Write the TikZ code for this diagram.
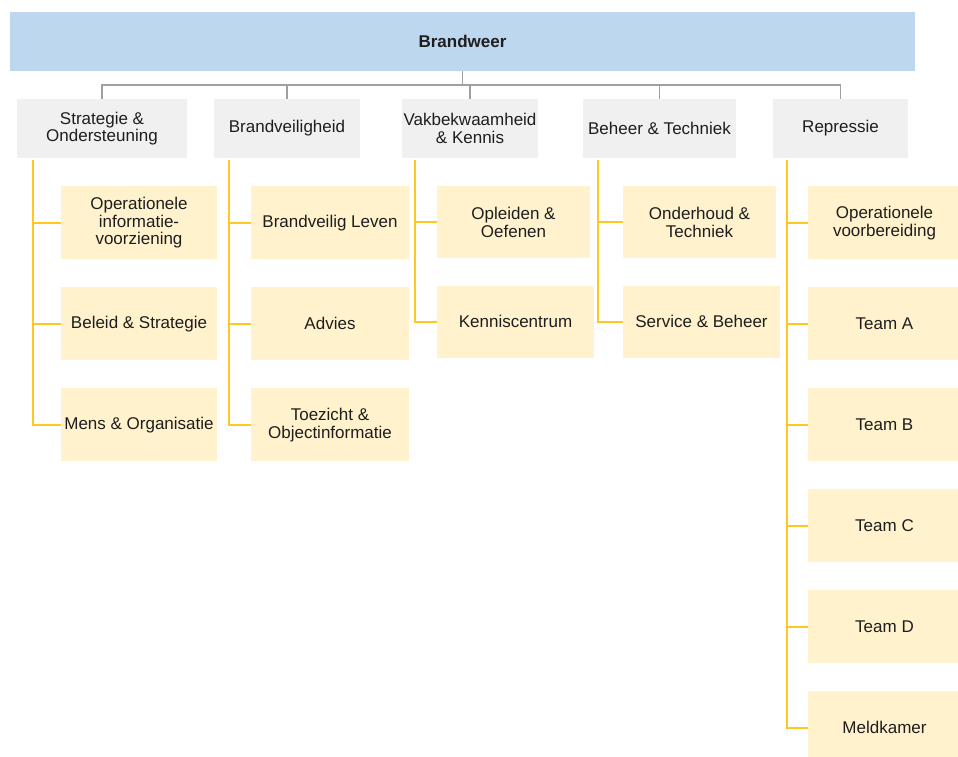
\documentclass[tikz,border=0pt]{standalone}
\usepackage{fontspec}
\setmainfont{Liberation Sans}
\usetikzlibrary{positioning}
\definecolor{bwblue}{HTML}{BDD7EE}
\definecolor{deptgray}{HTML}{F0F0F0}
\definecolor{subyellow}{HTML}{FFF2CC}
\definecolor{lineyellow}{HTML}{FFC820}
\definecolor{linegray}{HTML}{A0A0A0}
\definecolor{txt}{HTML}{1E1E1E}

\begin{document}
\begin{tikzpicture}[x=1pt, y=1pt, node distance={27.6pt}, text=txt,
  font=\fontsize{17}{17.5}\selectfont,
  chief/.style = {fill=bwblue, minimum width=905pt, minimum height=59pt, inner sep=0pt, font=\fontsize{17}{18}\selectfont\bfseries},
  dept/.style = {fill=deptgray, minimum height=59pt, inner sep=0pt, align=center},
  sub/.style = {fill=subyellow, minimum width=156pt, minimum height=73pt, inner sep=0pt, align=center},
  gline/.style = {draw=linegray, line width=1.6pt},
  yline/.style = {draw=lineyellow, line width=2pt}]
\useasboundingbox (0,0) rectangle (958,-757);

\node[chief] (bw) at (462.5,-41.5) {Brandweer};

\node[dept, minimum width=170pt] (so) at (102,-128.5) {Strategie \&\\Ondersteuning};
\node[dept, minimum width=146pt] (bv) at (287,-128.5) {Brandveiligheid};
\node[dept, minimum width=136pt] (vk) at (470,-128.5) {Vakbekwaamheid\\\& Kennis};
\node[dept, minimum width=153pt] (bt) at (659.5,-128.5) {Beheer \& Techniek};
\node[dept, minimum width=135pt] (re) at (840.5,-128.5) {Repressie};

% Strategie & Ondersteuning
\node[sub] (so1) [below right=28pt and 44pt of so.south west] {Operationele\\informatie-\\voorziening};
\node[sub] (so2) [below=of so1] {Beleid \& Strategie};
\node[sub] (so3) [below=of so2] {Mens \& Organisatie};

% Brandveiligheid
\node[sub, minimum width=158pt] (bv1) [below right=28pt and 37pt of bv.south west] {Brandveilig Leven};
\node[sub, minimum width=158pt] (bv2) [below=of bv1] {Advies};
\node[sub, minimum width=158pt] (bv3) [below=of bv2] {Toezicht \&\\Objectinformatie};

% Vakbekwaamheid & Kennis
\node[sub, minimum width=153pt, minimum height=72pt] (vk1) [below right=28pt and 35pt of vk.south west] {Opleiden \&\\Oefenen};
\node[sub, minimum width=157pt, minimum height=72pt] (vk2) [below=27pt of vk1.south west, anchor=north west] {Kenniscentrum};

% Beheer & Techniek
\node[sub, minimum width=153pt, minimum height=72pt] (bt1) [below right=28pt and 40pt of bt.south west] {Onderhoud \&\\Techniek};
\node[sub, minimum width=157pt, minimum height=72pt] (bt2) [below=27pt of bt1.south west, anchor=north west] {Service \& Beheer};

% Repressie
\node[sub, minimum width=153pt] (re1) [below right=28pt and 35pt of re.south west] {Operationele\\voorbereiding};
\node[sub, minimum width=153pt] (re2) [below=of re1] {Team A};
\node[sub, minimum width=153pt] (re3) [below=of re2] {Team B};
\node[sub, minimum width=153pt] (re4) [below=of re3] {Team C};
\node[sub, minimum width=153pt] (re5) [below=of re4] {Team D};
\node[sub, minimum width=153pt] (re6) [below=of re5] {Meldkamer};

\draw[gline] (bw.south) -- ++(0,-14) -| (so.north);
\draw[gline] (bw.south) -- ++(0,-14) -| (bv.north);
\draw[gline] (bw.south) -- ++(0,-14) -| (vk.north);
\draw[gline] (bw.south) -- ++(0,-14) -| (bt.north);
\draw[gline] (bw.south) -- ++(0,-14) -| (re.north);

\draw[yline] ([xshift=16pt,yshift=-2pt]so.south west) |- (so1.west);
\draw[yline] ([xshift=16pt,yshift=-2pt]so.south west) |- (so2.west);
\draw[yline] ([xshift=16pt,yshift=-2pt]so.south west) |- (so3.west);

\draw[yline] ([xshift=15pt,yshift=-2pt]bv.south west) |- (bv1.west);
\draw[yline] ([xshift=15pt,yshift=-2pt]bv.south west) |- (bv2.west);
\draw[yline] ([xshift=15pt,yshift=-2pt]bv.south west) |- (bv3.west);

\draw[yline] ([xshift=13pt,yshift=-2pt]vk.south west) |- (vk1.west);
\draw[yline] ([xshift=13pt,yshift=-2pt]vk.south west) |- (vk2.west);

\draw[yline] ([xshift=15pt,yshift=-2pt]bt.south west) |- (bt1.west);
\draw[yline] ([xshift=15pt,yshift=-2pt]bt.south west) |- (bt2.west);

\draw[yline] ([xshift=14pt,yshift=-2pt]re.south west) |- (re1.west);
\draw[yline] ([xshift=14pt,yshift=-2pt]re.south west) |- (re2.west);
\draw[yline] ([xshift=14pt,yshift=-2pt]re.south west) |- (re3.west);
\draw[yline] ([xshift=14pt,yshift=-2pt]re.south west) |- (re4.west);
\draw[yline] ([xshift=14pt,yshift=-2pt]re.south west) |- (re5.west);
\draw[yline] ([xshift=14pt,yshift=-2pt]re.south west) |- (re6.west);

\end{tikzpicture}
\end{document}
